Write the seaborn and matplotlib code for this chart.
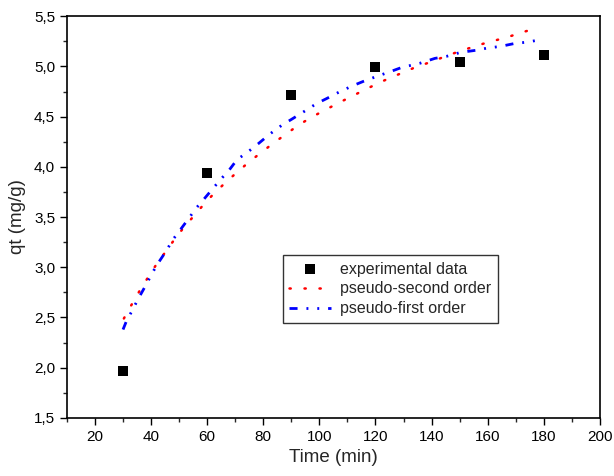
import matplotlib
matplotlib.use("Agg")
import matplotlib.pyplot as plt
import matplotlib.ticker as mticker
import seaborn as sns
import pandas as pd

# experimental data
t_exp = [30, 60, 90, 120, 150, 180]
q_exp = [1.97, 3.94, 4.72, 4.99, 5.04, 5.11]

# pseudo-second order curve
t_pso = [30.3, 32.9, 35.8, 38.7, 41.7, 44.8, 47.9, 51.2, 54.9, 58.6, 62.6, 66.8, 70.8,
         75.0, 79.6, 83.8, 88.3, 92.8, 97.6, 102.3, 107.1, 112.1, 117.1, 122.3, 127.3,
         132.4, 135.0, 140.4, 145.7, 151.1, 156.4, 161.5, 166.9, 172.4, 178.5]
q_pso = [2.49, 2.62, 2.76, 2.89, 3.02, 3.14, 3.26, 3.38, 3.50, 3.62, 3.74, 3.85, 3.95,
         4.05, 4.15, 4.24, 4.33, 4.42, 4.50, 4.57, 4.64, 4.71, 4.78, 4.85, 4.91,
         4.97, 5.00, 5.05, 5.11, 5.16, 5.21, 5.25, 5.29, 5.34, 5.39]

# pseudo-first order curve
t_pfo = [30.0, 31.3, 33.3, 35.1, 37.7, 40.2, 42.0, 45.1, 47.9, 49.8, 53.0, 56.1, 58.3,
         61.9, 65.3, 67.9, 70.6, 75.5, 78.2, 82.5, 86.9, 89.9, 94.5, 99.0, 102.6, 107.4,
         112.1, 115.6, 120.4, 125.5, 129.4, 135.7, 141.2, 145.3, 150.4, 155.7, 159.4,
         164.7, 169.9, 173.6, 179.8]
q_pfo = [2.38, 2.47, 2.57, 2.67, 2.80, 2.93, 3.02, 3.15, 3.28, 3.35, 3.47, 3.59, 3.66,
         3.78, 3.89, 3.97, 4.07, 4.17, 4.23, 4.33, 4.42, 4.47, 4.55, 4.63, 4.68, 4.75,
         4.81, 4.85, 4.90, 4.95, 4.99, 5.03, 5.08, 5.10, 5.14, 5.16, 5.18,
         5.20, 5.23, 5.24, 5.27]

sns.set_style("ticks")
plt.rcParams["font.family"] = ["Liberation Sans", "DejaVu Sans"]

fig = plt.figure(figsize=(6.14, 4.76), dpi=100)
ax = fig.add_axes([0.109, 0.122, 0.868, 0.844])

df_exp = pd.DataFrame({"t": t_exp, "q": q_exp})
df_pso = pd.DataFrame({"t": t_pso, "q": q_pso})
df_pfo = pd.DataFrame({"t": t_pfo, "q": q_pfo})

sns.scatterplot(data=df_exp, x="t", y="q", ax=ax, marker="s", s=46, color="black",
                edgecolor="black", linewidth=0, label="experimental data", zorder=3)
sns.lineplot(data=df_pso, x="t", y="q", ax=ax, color="red", linewidth=1.8,
             label="pseudo-second order", zorder=2)
sns.lineplot(data=df_pfo, x="t", y="q", ax=ax, color="#0000ff", linewidth=2.0,
             label="pseudo-first order", zorder=2)
lines = ax.get_lines()
lines[0].set_dashes([0.5, 5.5])
lines[0].set_dash_capstyle("round")
lines[1].set_dashes([2.9, 3.2, 0.7, 3.2, 0.7, 3.2])

ax.set_xlim(10, 200)
ax.set_ylim(1.5, 5.5)
ax.xaxis.set_major_locator(mticker.MultipleLocator(20))
ax.xaxis.set_minor_locator(mticker.MultipleLocator(10))
ax.yaxis.set_major_locator(mticker.MultipleLocator(0.5))
ax.yaxis.set_minor_locator(mticker.MultipleLocator(0.25))
ax.yaxis.set_major_formatter(mticker.FuncFormatter(lambda v, p: f"{v:.1f}".replace(".", ",")))
ax.xaxis.set_major_formatter(mticker.FuncFormatter(lambda v, p: f"{v:.0f}"))
ax.tick_params(which="major", direction="out", length=5, width=1, labelsize=11, colors="black")
ax.tick_params(which="minor", direction="out", length=3, width=1)
for s in ax.spines.values():
    s.set_visible(True)
    s.set_linewidth(1.2)
    s.set_color("black")

ax.set_xlabel("Time (min)", fontsize=13.5, labelpad=4)
ax.set_ylabel("qt (mg/g)", fontsize=13.5, labelpad=6)

leg = ax.legend(loc="upper left", bbox_to_anchor=(0.405, 0.405), borderaxespad=0,
                fontsize=11.5, frameon=True, fancybox=False, handlelength=2.6,
                borderpad=0.4, labelspacing=0.3, handletextpad=0.6)
leg.get_frame().set_edgecolor("black")
leg.get_frame().set_linewidth(1.0)

fig.savefig("out.png", dpi=100)
